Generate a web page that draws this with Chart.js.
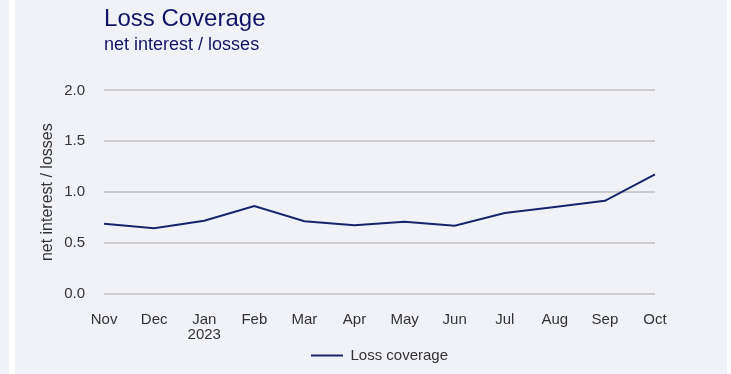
<!DOCTYPE html>
<html>
<head>
<meta charset="utf-8">
<script src="https://cdn.jsdelivr.net/npm/chart.js@4"></script>
<style>
  html, body { margin: 0; padding: 0; background: #ffffff; }
  #leftStrip { position: absolute; left: 0; top: 0; width: 9px; height: 374px; background: #f1f2f7; }
  #wrap { position: absolute; left: 15px; top: 0; width: 712px; height: 374px; background: #f1f2f7; }
</style>
</head>
<body>
<div id="leftStrip"></div>
<div id="wrap"><canvas id="coverageChart"></canvas></div>
<script>
// Loss coverage ratio, monthly
const month_labels = ['Nov', 'Dec', ['Jan', '2023'], 'Feb', 'Mar', 'Apr', 'May', 'Jun', 'Jul', 'Aug', 'Sep', 'Oct']
const loss_coverage = [0.69, 0.645, 0.72, 0.865, 0.715, 0.675, 0.71, 0.67, 0.795, 0.855, 0.915, 1.175]
const y_ticks = [0, 0.5, 1.0, 1.5, 2.0]

const navy = '#16246b'
const fontFamily = "'Liberation Sans', Arial, sans-serif"

const ctx = document.getElementById('coverageChart').getContext('2d');

const chart = new Chart(ctx, {type: 'line',
  data: {labels: month_labels,
    datasets: [
      {
        label: 'Loss coverage',
        data: loss_coverage,
        borderColor: navy,
        backgroundColor: navy,
        borderWidth: 2,
        pointRadius: 0,
        tension: 0
      }]
  },
  options: {
    responsive: true,
    maintainAspectRatio: false,
    animation: false,
    layout: {
      padding: {left: 23, right: 72, top: 5, bottom: 1}
    },
    plugins: {
      title: {
        display: true,
        text: 'Loss Coverage',
        align: 'start',
        fullSize: false,
        color: '#101466',
        font: {family: fontFamily, size: 24, weight: 'normal'},
        padding: {top: 0, bottom: 0}
      },
      subtitle: {
        display: true,
        text: 'net interest / losses',
        align: 'start',
        fullSize: false,
        color: '#101466',
        font: {family: fontFamily, size: 18, weight: 'normal'},
        padding: {top: 0, bottom: 35}
      },
      legend: {
        position: 'bottom',
        fullSize: false,  // center it under the plot area, not the whole canvas
        labels: {
          usePointStyle: true,
          pointStyle: 'line',
          pointStyleWidth: 32,
          color: '#333333',
          font: {family: fontFamily, size: 15},
          padding: 4
        }
      },
      tooltip: {enabled: false}
    },
    scales: {
      x: {
        offset: false,
        afterFit: axis => { axis.height -= 16 },
        grid: {display: false, drawTicks: false},
        border: {display: false},
        ticks: {
          color: '#333333',
          font: {family: fontFamily, size: 15, lineHeight: 1},
          padding: 18,
          maxRotation: 0,
          autoSkip: false
        }
      },
      y: {
        min: 0,
        max: 2,
        afterBuildTicks: axis => { axis.ticks = y_ticks.map(v => ({value: v})) },
        afterFit: axis => { axis.width -= 12 },
        grid: {color: '#cccccc', lineWidth: 2, drawTicks: false},
        border: {display: false},
        title: {
          display: true,
          text: 'net interest / losses',
          color: '#333333',
          font: {family: fontFamily, size: 16},
          padding: {top: 0, bottom: 0}
        },
        ticks: {
          color: '#333333',
          font: {family: fontFamily, size: 15},
          padding: 19,
          callback: v => v.toFixed(1)
        }
      }
    }
  }
});
</script>
</body>
</html>
